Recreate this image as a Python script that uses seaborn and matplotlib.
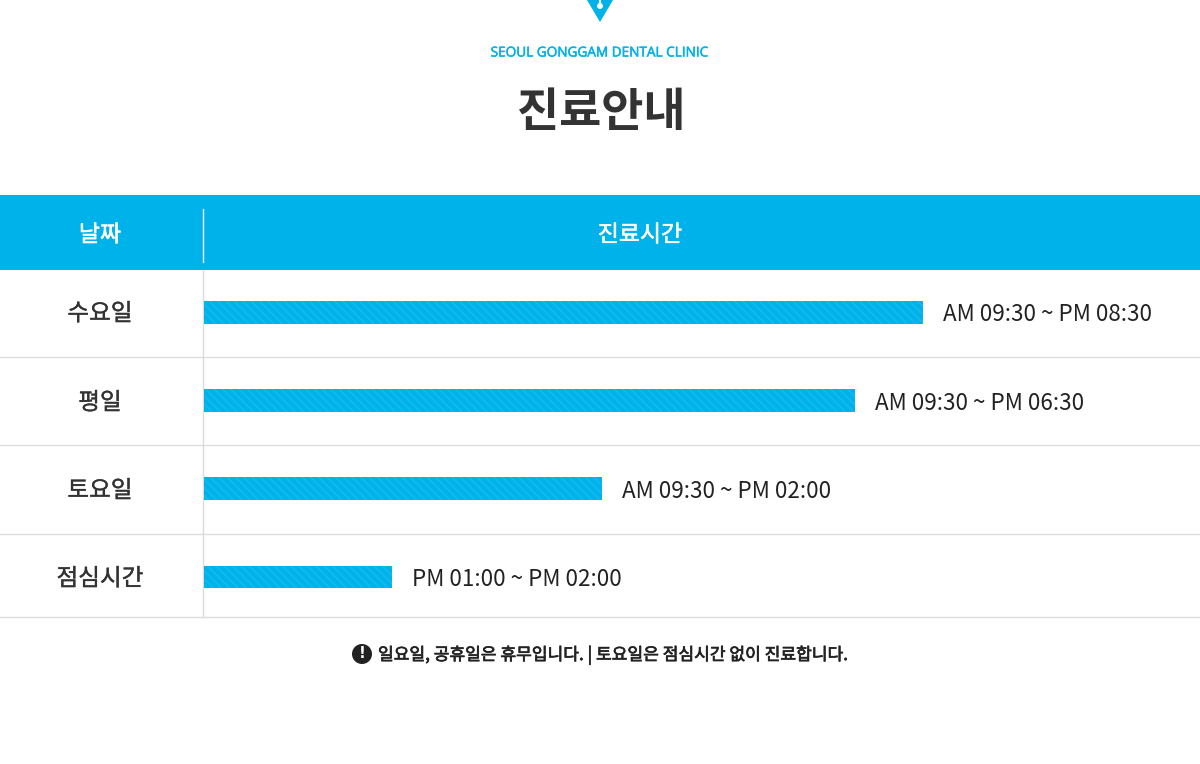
import matplotlib.pyplot as plt
import matplotlib.patches as mpatches
import matplotlib.patheffects as pe
import seaborn as sns
import pandas as pd

# Dados do quadro
dias = ['수요일', '평일', '토요일', '점심시간']
horarios = ['AM 09:30 ~ PM 08:30', 'AM 09:30 ~ PM 06:30',
            'AM 09:30 ~ PM 02:00', 'PM 01:00 ~ PM 02:00']
comprimento = [719, 651, 398, 188]

df = pd.DataFrame({'dia': dias, 'horario': horarios, 'comprimento': comprimento})

azul = '#00b2ea'
texto = '#333333'

sns.set_theme(style='white')
plt.rcParams['font.family'] = ['Noto Sans CJK KR', 'DejaVu Sans']
plt.rcParams['hatch.linewidth'] = 1.2

def grosso(cor, w=0.25):
    return [pe.withStroke(linewidth=w, foreground=cor)]

fig = plt.figure(figsize=(12, 7.64), dpi=100)

# Fundo em coordenadas de pixel
ax0 = fig.add_axes([0, 0, 1, 1])
ax0.set_xlim(0, 1200)
ax0.set_ylim(764, 0)
ax0.axis('off')

# Logo
ax0.add_patch(mpatches.Polygon([(587, 0), (613, 0), (600, 22)], closed=True, color=azul, lw=0))
ax0.plot([600, 600], [0, 5], color='white', lw=1.5)
ax0.add_patch(mpatches.Circle((600, 6), 3, color='white', lw=0))

ax0.text(600, 53, 'SEOUL GONGGAM DENTAL CLINIC', color=azul, fontsize=9.8,
         ha='center', va='center', family=['Open Sans', 'DejaVu Sans'],
         path_effects=grosso(azul, 0.35))
ax0.text(601, 113, '진료안내', color=texto, fontsize=33, fontweight='bold',
         ha='center', va='center')

# Cabecalho
ax0.add_patch(mpatches.Rectangle((0, 195), 1200, 75, color=azul, lw=0))
ax0.plot([203, 203], [209, 262], color='white', lw=1)
ax0.text(100, 235, '날짜', color='white', fontsize=16.5,
         ha='center', va='center', path_effects=grosso('white', 0.4))
ax0.text(640, 235, '진료시간', color='white', fontsize=16.5,
         ha='center', va='center', path_effects=grosso('white', 0.4))

# Linhas da tabela
for y in [357, 445, 534, 617]:
    ax0.plot([0, 1200], [y, y], color='#dcdcdc', lw=1)
ax0.plot([203, 203], [270, 617], color='#dcdcdc', lw=1)

centros = [312, 401, 489, 577]
for dia, yc in zip(dias, centros):
    ax0.text(100, yc + 2, dia, color=texto, fontsize=17,
             ha='center', va='center', path_effects=grosso(texto))

# Barras
ax = fig.add_axes([204 / 1200, (764 - 617) / 764, 996 / 1200, 347 / 764])
sns.barplot(data=df, x='comprimento', y='dia', orient='h', color=azul,
            width=0.26, saturation=1, ax=ax, hatch='\\\\\\\\',
            edgecolor='#14b9ef', linewidth=0)
ax.set_xlim(0, 996)
ax.set_ylim(3.453, -0.476)
ax.axis('off')
ax.patch.set_alpha(0)

for i, row in df.iterrows():
    ax.text(row['comprimento'] + 20, i + 0.03, row['horario'], color='#222222',
            fontsize=16.2, ha='left', va='center')

# Observacao
ax0.add_patch(mpatches.Circle((362, 654), 10, color='#222222', lw=0))
ax0.text(362, 654, '!', color='white', fontsize=11, fontweight='bold',
         ha='center', va='center', family='DejaVu Sans')
ax0.text(378, 655, '일요일, 공휴일은 휴무입니다. | 토요일은 점심시간 없이 진료합니다.',
         color='#222222', fontsize=12.3, ha='left', va='center',
         path_effects=grosso('#222222', 0.5))

plt.savefig('out.png', dpi=100)
